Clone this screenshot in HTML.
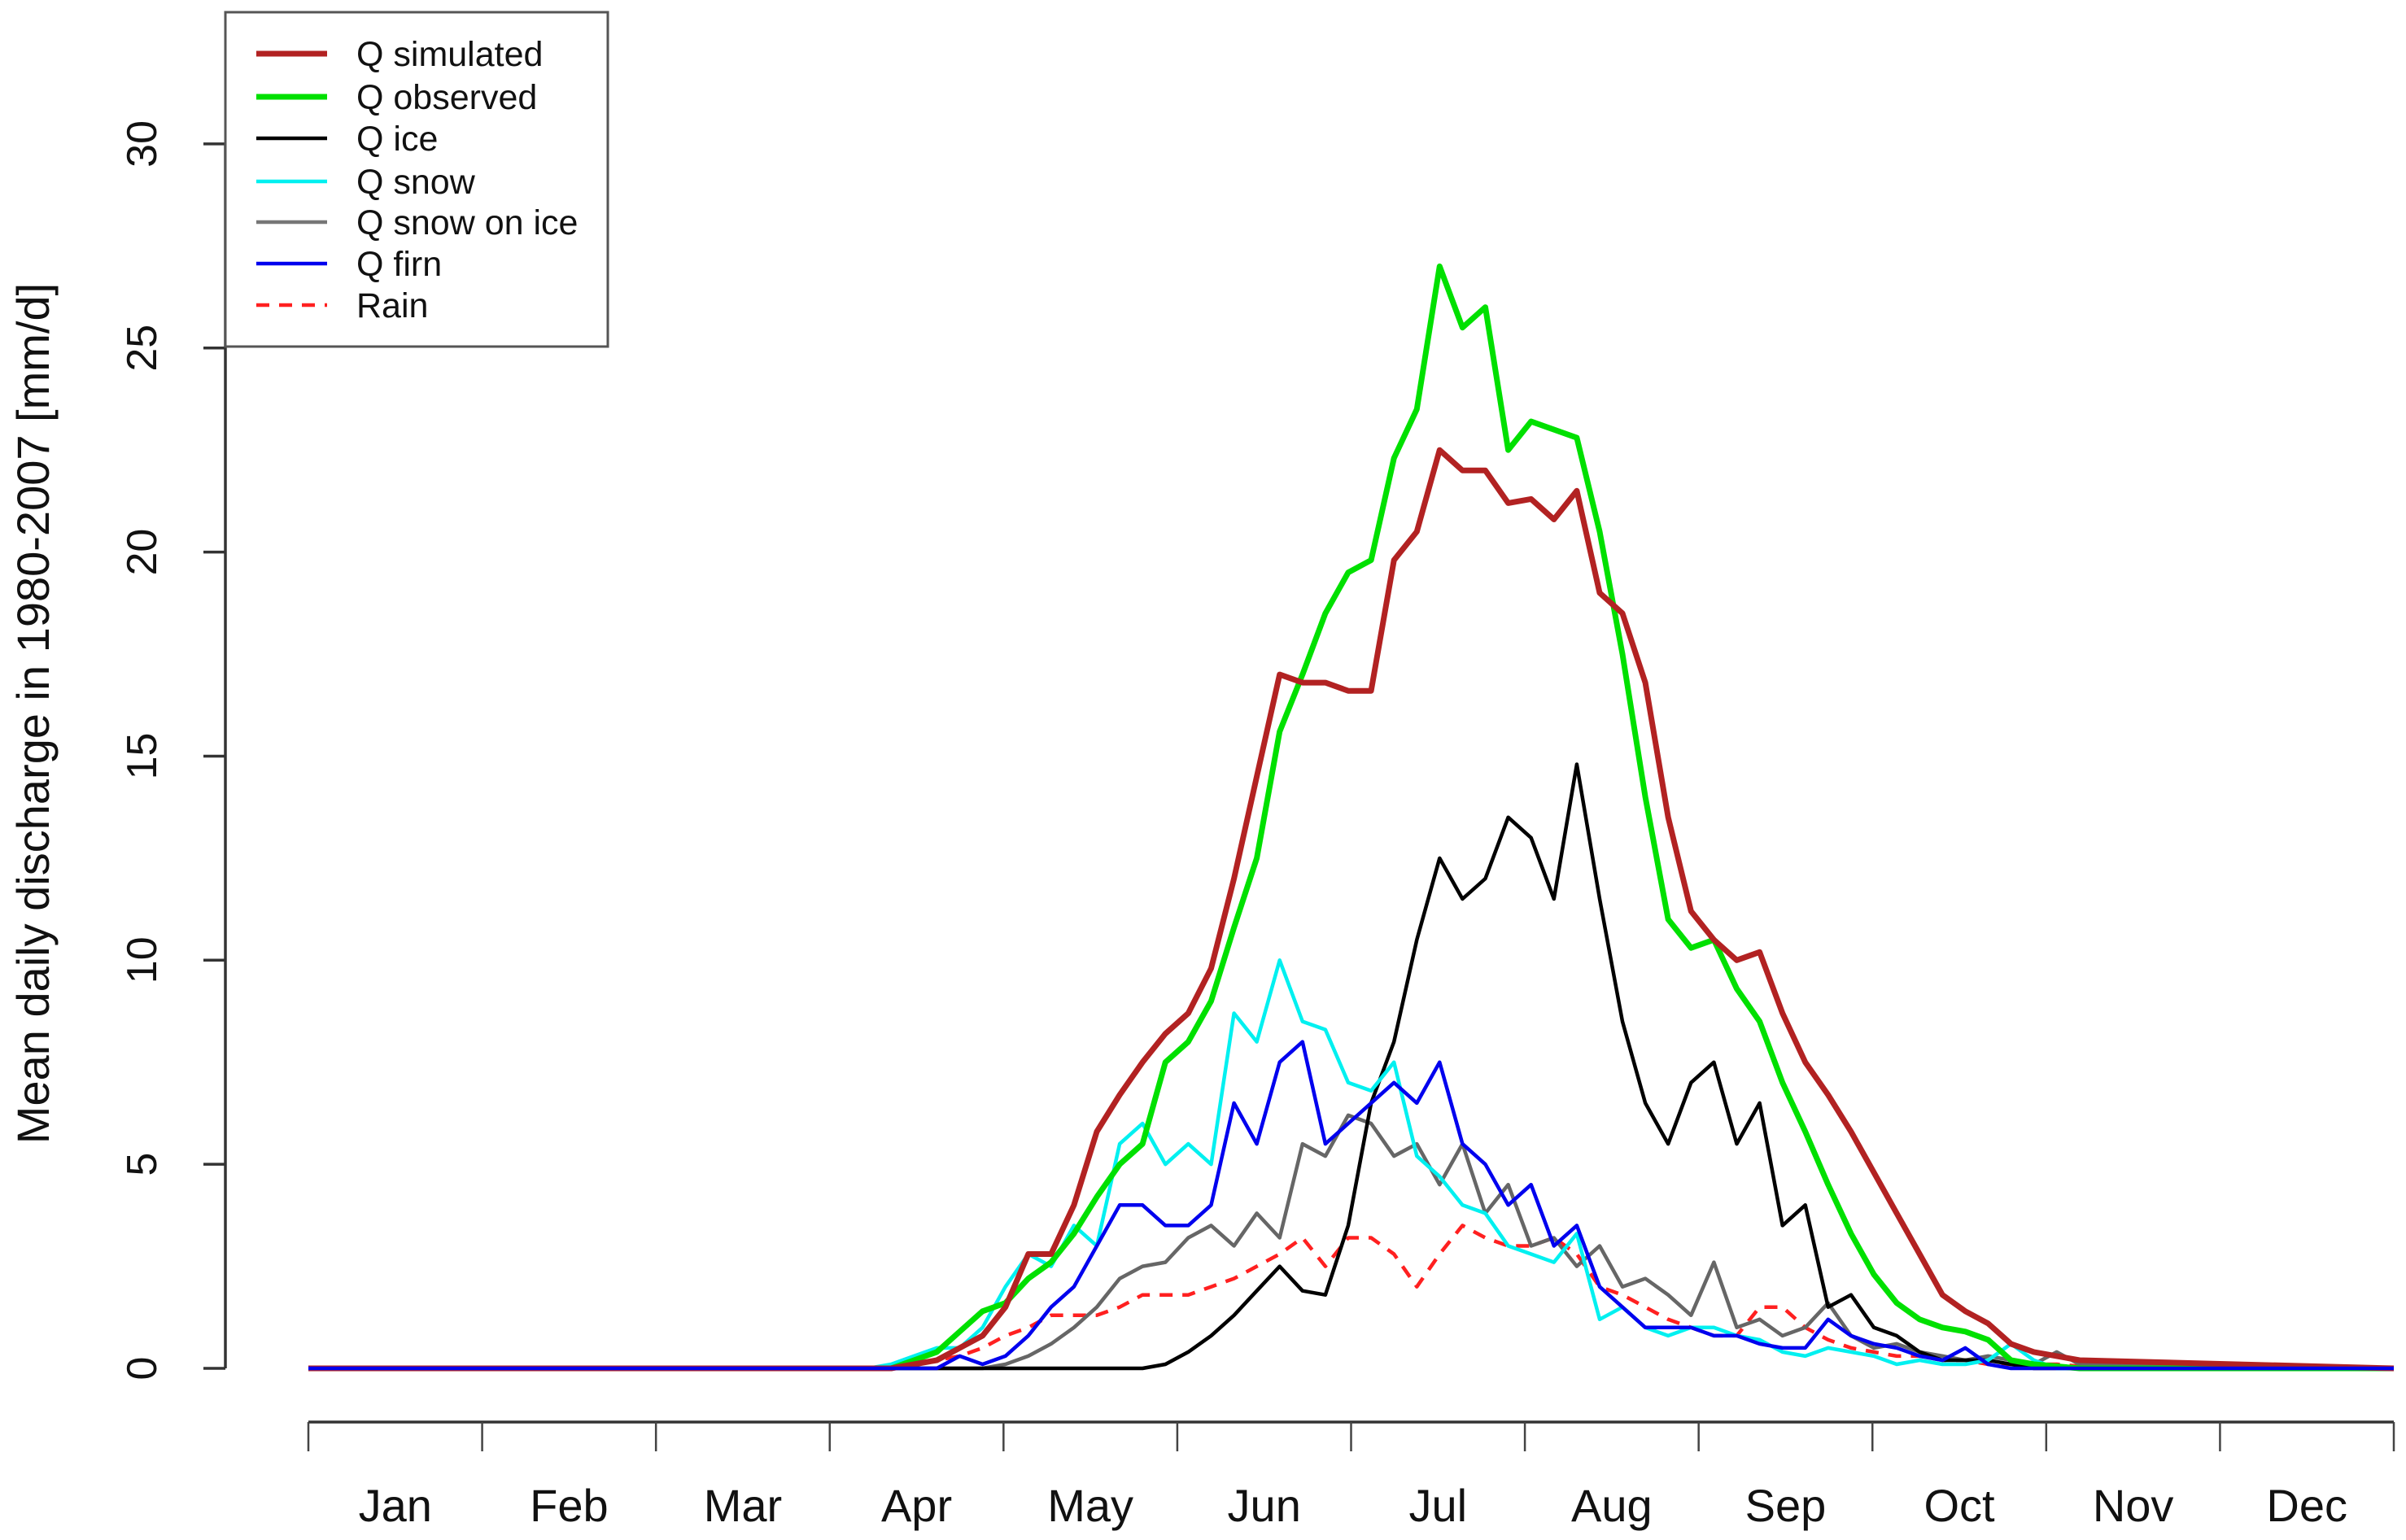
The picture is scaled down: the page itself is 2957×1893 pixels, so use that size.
<!DOCTYPE html>
<html><head><meta charset="utf-8"><style>
html,body{margin:0;padding:0;background:#fff;}
svg{display:block;font-family:"Liberation Sans",Arial,sans-serif;}
</style></head><body>
<svg id="chart" width="2957" height="1893" viewBox="0 0 2957 1893" xmlns="http://www.w3.org/2000/svg">
<g id="axes"></g>
<g id="series"></g>
<g id="legend"></g>
</svg>
<script>
const days = [90,94,98,102,106,110,114,118,122,126,130,134,138,142,146,150,154,158,162,166,170,174,178,182,186,190,194,198,202,206,210,214,218,222,226,230,234,238,242,246,250,254,258,262,266,270,274,278,282,286,290,294,298,302,306,310];
const qSimulated = [0,0,0,0,0.1,0.2,0.5,0.8,1.5,2.8,2.8,4.0,5.8,6.7,7.5,8.2,8.7,9.8,12.0,14.5,17,16.8,16.8,16.6,16.6,19.8,20.5,22.5,22,22,21.2,21.3,20.8,21.5,19,18.5,16.8,13.5,11.2,10.5,10.0,10.2,8.7,7.5,6.7,5.8,4.8,3.8,2.8,1.8,1.4,1.1,0.6,0.4,0.3,0.2];
const qObserved = [0,0,0,0,0.2,0.4,0.9,1.4,1.6,2.2,2.6,3.3,4.2,5.0,5.5,7.5,8.0,9.0,10.8,12.5,15.6,17.0,18.5,19.5,19.8,22.3,23.5,27.0,25.5,26.0,22.5,23.2,23.0,22.8,20.5,17.5,14,11,10.3,10.5,9.3,8.5,7.0,5.8,4.5,3.3,2.3,1.6,1.2,1.0,0.9,0.7,0.2,0.1,0.05,0];
const qIce = [0,0,0,0,0,0,0,0,0,0,0,0,0,0,0,0.1,0.4,0.8,1.3,1.9,2.5,1.9,1.8,3.5,6.5,8,10.5,12.5,11.5,12,13.5,13,11.5,14.8,11.5,8.5,6.5,5.5,7,7.5,5.5,6.5,3.5,4.0,1.5,1.8,1.0,0.8,0.4,0.2,0.2,0.2,0.1,0,0,0];
const qSnow = [0,0,0,0.1,0.3,0.5,0.5,1.0,2.0,2.8,2.5,3.5,3.0,5.5,6.0,5.0,5.5,5.0,8.7,8.0,10.0,8.5,8.3,7.0,6.8,7.5,5.2,4.7,4.0,3.8,3.0,2.8,2.6,3.3,1.2,1.5,1.0,0.8,1.0,1.0,0.8,0.7,0.4,0.3,0.5,0.4,0.3,0.1,0.2,0.1,0.1,0.2,0.6,0.2,0,0];
const qSnowOnIce = [0,0,0,0,0,0,0,0,0.1,0.3,0.6,1.0,1.5,2.2,2.5,2.6,3.2,3.5,3.0,3.8,3.2,5.5,5.2,6.2,6.0,5.2,5.5,4.5,5.5,3.8,4.5,3.0,3.2,2.5,3.0,2.0,2.2,1.8,1.3,2.6,1.0,1.2,0.8,1.0,1.6,0.8,0.5,0.6,0.4,0.3,0.2,0.3,0.2,0.1,0.4,0.1];
const qFirn = [0,0,0,0,0,0,0.3,0.1,0.3,0.8,1.5,2.0,3.0,4.0,4.0,3.5,3.5,4.0,6.5,5.5,7.5,8.0,5.5,6.0,6.5,7.0,6.5,7.5,5.5,5.0,4.0,4.5,3.0,3.5,2.0,1.5,1.0,1.0,1.0,0.8,0.8,0.6,0.5,0.5,1.2,0.8,0.6,0.5,0.3,0.2,0.5,0.1,0,0,0,0];
const rain = [0,0,0,0,0.1,0.2,0.3,0.5,0.8,1.0,1.3,1.3,1.3,1.5,1.8,1.8,1.8,2.0,2.2,2.5,2.8,3.2,2.5,3.2,3.2,2.8,2.0,2.8,3.5,3.2,3.0,3.0,3.2,2.8,2.0,1.8,1.5,1.2,1.0,0.8,0.8,1.5,1.5,1.0,0.7,0.5,0.4,0.3,0.3,0.2,0.2,0.1,0.1,0.1,0.1,0.05];
const yTicks = [0,5,10,15,20,25,30];
const monthLabels = ["Jan","Feb","Mar","Apr","May","Jun","Jul","Aug","Sep","Oct","Nov","Dec"];

const NS = "http://www.w3.org/2000/svg";
const X0 = 379, X1 = 2942, Y0 = 1682, PPU = 50.17;
function xs(d){ return X0 + d * (X1 - X0) / 365; }
function ys(v){ return Y0 - v * PPU; }
function mk(tag, attrs, parent){
  const e = document.createElementNS(NS, tag);
  for (const k in attrs) e.setAttribute(k, attrs[k]);
  parent.appendChild(e);
  return e;
}
const axes = document.getElementById('axes');
const seriesG = document.getElementById('series');
const legend = document.getElementById('legend');

const yAxis = mk('line', {x1:277, x2:277, y1:ys(0), y2:ys(30), stroke:'#333', 'stroke-width':3.5}, axes);


yTicks.forEach(t => {
  const tk = mk('line', {x1:250, x2:277, y1:ys(t), y2:ys(t), stroke:'#333', 'stroke-width':3.5}, axes);
  
  
  const lb = mk('text', {x:0, y:0, 'font-size':52, 'text-anchor':'middle', fill:'#111', transform:'translate(192,' + ys(t) + ') rotate(-90)'}, axes);
  lb.textContent = t;
  
  
});
const yTitle = mk('text', {x:0, y:0, 'font-size':56, 'text-anchor':'middle', fill:'#111', transform:'translate(60,877) rotate(-90)'}, axes);
yTitle.textContent = 'Mean daily discharge in 1980-2007 [mm/d]';



const xAxis = mk('line', {x1:X0, x2:X1, y1:1748, y2:1748, stroke:'#333', 'stroke-width':3.5}, axes);


for (let i = 0; i <= 12; i++) {
  const x = X0 + i * (X1 - X0) / 12;
  const tk = mk('line', {x1:x, x2:x, y1:1748, y2:1784, stroke:'#444', 'stroke-width':2.5}, axes);
  
  
}
monthLabels.forEach((m, i) => {
  const x = X0 + (i + 0.5) * (X1 - X0) / 12;
  const lb = mk('text', {x:x, y:1870, 'font-size':56, 'text-anchor':'middle', fill:'#111'}, axes);
  lb.textContent = m;
  
  
});

function path(vals, startV, endV){
  let pts = [[0, startV]];
  days.forEach((d, i) => pts.push([d, vals[i]]));
  pts.push([365, endV]);
  return pts.map((p, i) => (i ? 'L' : 'M') + xs(p[0]).toFixed(1) + ' ' + ys(p[1]).toFixed(1)).join(' ');
}
const defs = [
  {v:rain, c:'#ff2020', w:4.5, dash:'16 12', n:'rain-line'},
  {v:qSnowOnIce, c:'#666666', w:4.5, n:'q-snow-on-ice-line'},
  {v:qIce, c:'#000000', w:4.5, n:'q-ice-line'},
  {v:qSnow, c:'#00f0f0', w:4.5, n:'q-snow-line'},
  {v:qObserved, c:'#00e000', w:7, n:'q-observed-line'},
  {v:qSimulated, c:'#b22222', w:7, n:'q-simulated-line'},
  {v:qFirn, c:'#0000ee', w:4.5, n:'q-firn-line'}
];
defs.forEach(s => {
  const p = mk('path', {d:path(s.v, 0, 0), fill:'none', stroke:s.c, 'stroke-width':s.w, 'stroke-linejoin':'round'}, seriesG);
  if (s.dash) p.setAttribute('stroke-dasharray', s.dash);
  
  
});

const box = mk('rect', {x:277, y:15, width:470, height:411, fill:'#fff', stroke:'#555', 'stroke-width':3}, legend);


const entries = [
  ['Q simulated', '#b22222', 7, null],
  ['Q observed', '#00e000', 7, null],
  ['Q ice', '#000000', 4.5, null],
  ['Q snow', '#00f0f0', 4.5, null],
  ['Q snow on ice', '#777777', 4.5, null],
  ['Q firn', '#0000ee', 4.5, null],
  ['Rain', '#ff2020', 4.5, '16 12']
];
const rowsY = [66,119,170,223,273,324,375];
entries.forEach((e, i) => {
  const y = rowsY[i];
  const ln = mk('line', {x1:315, x2:402, y1:y, y2:y, stroke:e[1], 'stroke-width':e[2]}, legend);
  if (e[3]) ln.setAttribute('stroke-dasharray', e[3]);
  
  
  const t = mk('text', {x:438, y:y + 15, 'font-size':43, fill:'#111'}, legend);
  t.textContent = e[0];
  
  
});
</script>
</body></html>
